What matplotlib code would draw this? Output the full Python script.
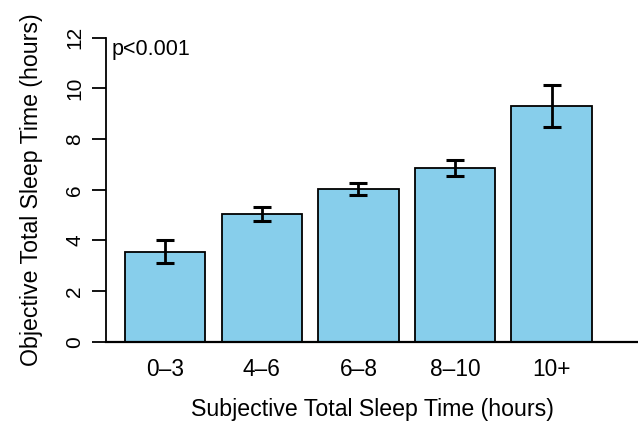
import matplotlib
matplotlib.use("Agg")
import matplotlib.pyplot as plt
import numpy as np

plt.rcParams['font.family'] = ['Liberation Sans', 'DejaVu Sans']

categories = ["0\u20133", "4\u20136", "6\u20138", "8\u201310", "10+"]
means = [3.55, 5.03, 6.04, 6.87, 9.31]
errors = [0.46, 0.28, 0.23, 0.31, 0.83]
yticks = [0, 2, 4, 6, 8, 10, 12]
annotation = "p<0.001"

W, H = 638, 423
fig = plt.figure(figsize=(W / 100, H / 100), dpi=100)
left_px, bottom_px, top_px = 106.3, 341.7, 37.7
ax = fig.add_axes([left_px / W, (H - bottom_px) / H, (W - left_px) / W, (bottom_px - top_px) / H])

x = 0.7 + 1.2 * np.arange(len(means))
ax.bar(x, means, width=1.0, color="#87CEEB", edgecolor="black", linewidth=1.3, zorder=2)
ax.errorbar(x, means, yerr=errors, fmt="none", ecolor="black", elinewidth=2.0,
            capsize=6.3, capthick=2.2, zorder=3)

ax.set_xlim(-0.032, -0.032 + (W - left_px) / 80.5)
ax.set_ylim(0, 12)
ax.spines['top'].set_visible(False)
ax.spines['right'].set_visible(False)
ax.spines['left'].set_linewidth(1.3)
ax.spines['bottom'].set_linewidth(1.6)

ax.set_yticks(yticks)
ax.set_yticklabels([str(v) for v in yticks], rotation=90, va='center', fontsize=15)
ax.tick_params(axis='y', length=10, width=1.3, pad=6)
ax.set_xticks(x)
ax.set_xticklabels(categories, fontsize=16.3)
ax.tick_params(axis='x', length=0, pad=12)

ax.set_xlabel("Subjective Total Sleep Time (hours)", fontsize=16.7, labelpad=12)
ax.set_ylabel("Objective Total Sleep Time (hours)", fontsize=16.7, labelpad=16)

ax.text(0.03, 11.93, annotation, fontsize=15.5, ha='left', va='top', clip_on=False)

fig.savefig("out.png", dpi=100)
